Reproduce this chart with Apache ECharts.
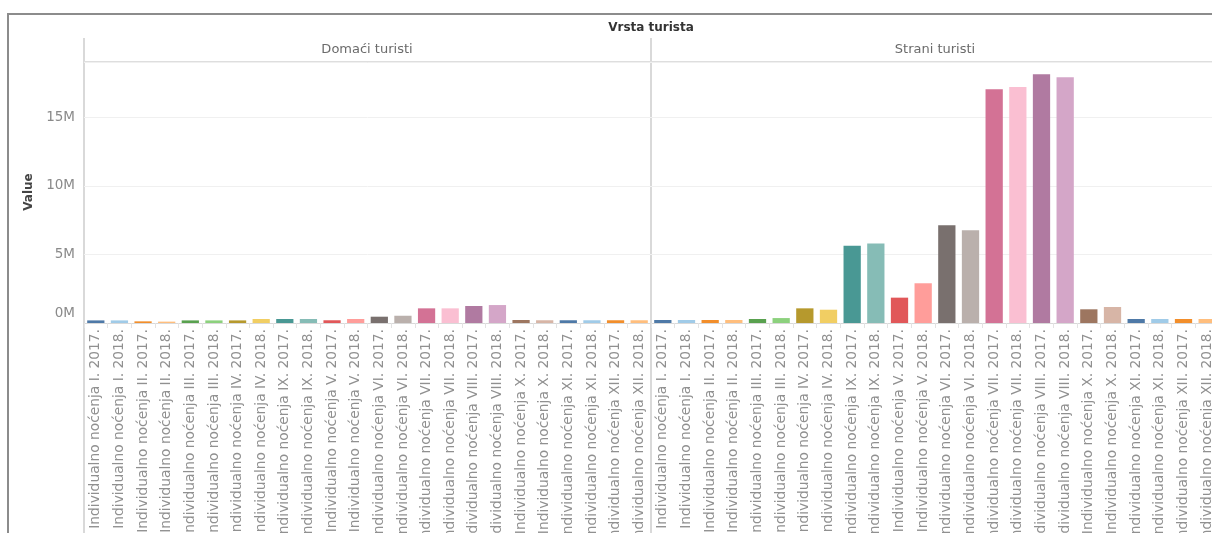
<!DOCTYPE html>
<html>
<head>
<meta charset="utf-8">
<script src="https://cdn.jsdelivr.net/npm/echarts@6/dist/echarts.min.js"></script>
<style>
  html, body { margin: 0; padding: 0; overflow: hidden; background: #fff; }
  #chart { width: 1232px; height: 533px; }
</style>
</head>
<body>
<div id="chart"></div>
<script>
// mjeseci sortirani abecedno, kao u izvoru
var months = ['I', 'II', 'III', 'IV', 'IX', 'V', 'VI', 'VII', 'VIII', 'X', 'XI', 'XII'];
var years = ['2017', '2018'];
var panels = ['Domaći turisti', 'Strani turisti'];

// noćenja (procjena s grafa)
var domaci = [
  190000, 190000, 120000, 100000, 190000, 190000, 190000, 290000,
  290000, 290000, 200000, 290000, 460000, 530000, 1070000, 1070000,
  1240000, 1310000, 220000, 200000, 200000, 200000, 200000, 200000
];
var strani = [
  220000, 220000, 220000, 220000, 290000, 360000, 1070000, 970000,
  5640000, 5810000, 1850000, 2900000, 7130000, 6770000, 17060000, 17230000,
  18150000, 17930000, 1000000, 1170000, 290000, 290000, 290000, 290000
];

var palette = ['#4e79a7', '#a0cbe8', '#f28e2b', '#ffbe7d', '#59a14f', '#8cd17d', '#b6992d', '#f1ce63',
  '#499894', '#86bcb6', '#e15759', '#ff9d9a', '#79706e', '#bab0ac', '#d37295', '#fabfd2',
  '#b07aa1', '#d4a6c8', '#9d7660', '#d7b5a6'];

var categories = [];
for (var i = 0; i < months.length; i++) {
  for (var j = 0; j < years.length; j++) {
    categories.push('Individualno noćenja ' + months[i] + '. ' + years[j] + '.');
  }
}

var font = '"DejaVu Sans", sans-serif';
var chart = echarts.init(document.getElementById('chart'));

function xAxisFor(idx) {
  return {
    type: 'category', gridIndex: idx, data: categories,
    axisLine: { lineStyle: { color: '#d9d9d9', width: 1 } },
    axisTick: { show: true, interval: 0, length: 5, lineStyle: { color: '#e3e3e3' } },
    axisLabel: { interval: 0, rotate: 90, margin: 6, color: '#909090', fontSize: 13.8, fontFamily: font }
  };
}
function yAxisFor(idx) {
  return {
    type: 'value', gridIndex: idx, min: 0, max: 19050000, interval: 5000000,
    axisLine: { show: false }, axisTick: { show: false },
    splitLine: { lineStyle: { color: '#f0f0f0' } },
    axisLabel: {
      show: idx === 0, showMaxLabel: false, margin: 9, color: '#8a8a8a', fontSize: 13.5, fontFamily: font,
      formatter: function (v) { return v === 0 ? '{z|0M}' : (v / 1000000) + 'M'; },
      rich: { z: { color: '#8a8a8a', fontSize: 13.5, fontFamily: font, padding: [0, 0, 20, 0] } }
    }
  };
}
function colorFn(p) { return palette[p.dataIndex % palette.length]; }

var option = {
  animation: false,
  grid: [
    { left: 84, top: 62, width: 567, height: 261, outerBoundsMode: 'none', containLabel: false },
    { left: 651, top: 62, width: 568, height: 261, outerBoundsMode: 'none', containLabel: false }
  ],
  xAxis: [xAxisFor(0), xAxisFor(1)],
  yAxis: [yAxisFor(0), yAxisFor(1)],
  series: [
    { type: 'bar', name: panels[0], xAxisIndex: 0, yAxisIndex: 0, data: domaci, barCategoryGap: '27%', itemStyle: { color: colorFn } },
    { type: 'bar', name: panels[1], xAxisIndex: 1, yAxisIndex: 1, data: strani, barCategoryGap: '27%', itemStyle: { color: colorFn } }
  ],
  graphic: [
    { type: 'rect', shape: { x: 8, y: 14, width: 1300, height: 600 }, style: { fill: 'none', stroke: '#8c8c8c', lineWidth: 2 }, silent: true },
    { type: 'line', shape: { x1: 84, y1: 38, x2: 84, y2: 540 }, style: { stroke: '#d9d9d9', lineWidth: 2 }, silent: true },
    { type: 'line', shape: { x1: 651, y1: 38, x2: 651, y2: 540 }, style: { stroke: '#d9d9d9', lineWidth: 2 }, silent: true },
    { type: 'line', shape: { x1: 84, y1: 62, x2: 1240, y2: 62 }, style: { stroke: '#dedede', lineWidth: 2 }, silent: true },
    { type: 'text', x: 651, y: 28, style: { text: 'Vrsta turista', fill: '#333', font: 'bold 12px ' + font, textAlign: 'center', textVerticalAlign: 'middle' } },
    { type: 'text', x: 367, y: 50, style: { text: panels[0], fill: '#6b6b6b', font: '13px ' + font, textAlign: 'center', textVerticalAlign: 'middle' } },
    { type: 'text', x: 935, y: 50, style: { text: panels[1], fill: '#6b6b6b', font: '13px ' + font, textAlign: 'center', textVerticalAlign: 'middle' } },
    { type: 'text', x: 29, y: 192, rotation: Math.PI / 2, style: { text: 'Value', fill: '#444', font: 'bold 12px ' + font, textAlign: 'center', textVerticalAlign: 'middle' } }
  ]
};
chart.setOption(option);
</script>
</body>
</html>
